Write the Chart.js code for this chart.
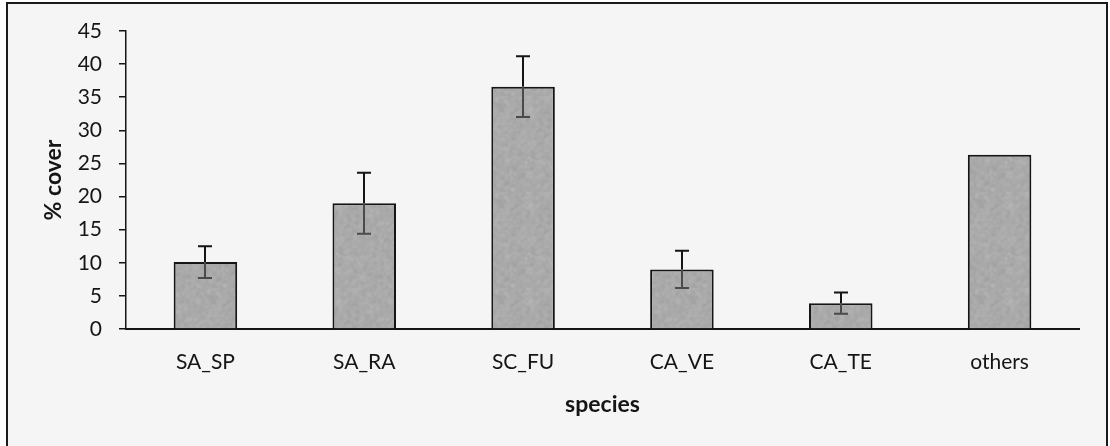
<!DOCTYPE html>
<html>
<head>
<meta charset="utf-8">
<script src="https://cdn.jsdelivr.net/npm/chart.js@4.4.1/dist/chart.umd.min.js"></script>
<style>
  html, body { margin: 0; padding: 0; background: #ffffff; }
  #wrap { position: relative; width: 1110px; height: 446px; }
</style>
</head>
<body>
<div id="wrap"><canvas id="c" width="1110" height="446"></canvas></div>
<script>
// Mean percentage cover per species, with standard errors
const species = ['SA_SP', 'SA_RA', 'SC_FU', 'CA_VE', 'CA_TE', 'others'];
const cover = [10.1, 19.0, 36.6, 9.0, 3.9, 26.3];
const coverError = [2.4, 4.6, 4.6, 2.8, 1.6, null];
const yTicks = [0, 5, 10, 15, 20, 25, 30, 35, 40, 45];

const FONT = 'Lato, "Open Sans", sans-serif';
const INK = '#151515';

// Speckled grey fill for the bars (deterministic hash noise, softened)
function speckle() {
  const size = 96;
  const raw = document.createElement('canvas');
  raw.width = size; raw.height = size;
  const g = raw.getContext('2d');
  const img = g.createImageData(size, size);
  for (let i = 0; i < size * size; i++) {
    let h = Math.imul(i + 1, 0x9E3779B1) >>> 0;
    h ^= h >>> 15; h = Math.imul(h, 0x85EBCA6B) >>> 0;
    h ^= h >>> 13; h = Math.imul(h, 0xC2B2AE35) >>> 0;
    h ^= h >>> 16;
    const n = ((h & 1023) / 1023) - 0.5;
    const v = Math.round(170 + n * 40);
    img.data[i * 4] = v; img.data[i * 4 + 1] = v; img.data[i * 4 + 2] = v; img.data[i * 4 + 3] = 255;
  }
  g.putImageData(img, 0, 0);
  const soft = document.createElement('canvas');
  soft.width = size; soft.height = size;
  const s = soft.getContext('2d');
  s.fillStyle = '#aaaaaa';
  s.fillRect(0, 0, size, size);
  s.filter = 'blur(0.8px)';
  s.drawImage(raw, 0, 0);
  return s.createPattern(soft, 'repeat');
}

// Frame and pale background behind the whole chart
const framePlugin = {
  id: 'frame',
  beforeDraw(chart) {
    const ctx = chart.ctx;
    ctx.save();
    ctx.fillStyle = '#f5f5f5';
    ctx.fillRect(7, 3, 1100, 443);
    ctx.strokeStyle = '#1a1a1a';
    ctx.lineWidth = 2;
    ctx.beginPath();
    ctx.moveTo(7, 446);
    ctx.lineTo(7, 3);
    ctx.lineTo(1107, 3);
    ctx.lineTo(1107, 446);
    ctx.stroke();
    ctx.restore();
  }
};

// Error bars: dark above the bar, lighter where they pass through the bar
const errorBarPlugin = {
  id: 'errorBars',
  afterDatasetsDraw(chart) {
    const ctx = chart.ctx;
    const yScale = chart.scales.y;
    const meta = chart.getDatasetMeta(0);
    const cap = 7;
    ctx.save();
    ctx.lineWidth = 2;
    meta.data.forEach((bar, i) => {
      const e = coverError[i];
      if (e == null) return;
      const v = cover[i];
      const x = Math.round(bar.x);
      const yTop = yScale.getPixelForValue(v + e);
      const yVal = yScale.getPixelForValue(v);
      const yBot = yScale.getPixelForValue(v - e);
      ctx.strokeStyle = INK;
      ctx.beginPath();
      ctx.moveTo(x, yVal); ctx.lineTo(x, yTop);
      ctx.moveTo(x - cap, yTop); ctx.lineTo(x + cap, yTop);
      ctx.stroke();
      ctx.strokeStyle = '#4a4a4a';
      ctx.beginPath();
      ctx.moveTo(x, yVal); ctx.lineTo(x, yBot);
      ctx.moveTo(x - cap, yBot); ctx.lineTo(x + cap, yBot);
      ctx.stroke();
    });
    ctx.restore();
  }
};

const ctx = document.getElementById('c').getContext('2d');
new Chart(ctx, {
  type: 'bar',
  data: {
    labels: species,
    datasets: [{
      data: cover,
      backgroundColor: speckle(),
      borderColor: INK,
      borderWidth: 2,
      borderSkipped: 'bottom',
      barPercentage: 0.4,
      categoryPercentage: 1.0
    }]
  },
  options: {
    responsive: false,
    animation: false,
    devicePixelRatio: 1,
    layout: { padding: { left: 0, right: 31, top: 31, bottom: 0 } },
    plugins: { legend: { display: false }, tooltip: { enabled: false } },
    scales: {
      x: {
        grid: { display: false, drawTicks: false },
        border: { display: true, color: INK, width: 2 },
        ticks: { color: INK, font: { family: FONT, size: 21 }, padding: 21 },
        title: {
          display: true, text: 'species', color: INK,
          font: { family: FONT, size: 23, weight: 'bold' },
          padding: { top: 0, bottom: 28 }
        },
        afterFit(scale) { scale.height = 117; }
      },
      y: {
        min: 0, max: 45,
        afterBuildTicks(scale) { scale.ticks = yTicks.map(v => ({ value: v })); },
        grid: { drawOnChartArea: false, drawTicks: true, tickLength: 7, color: INK, lineWidth: 1.5 },
        border: { display: true, color: INK, width: 1.5 },
        ticks: { color: INK, font: { family: FONT, size: 21 }, padding: 17 },
        title: {
          display: true, text: '% cover', color: INK,
          font: { family: FONT, size: 23, weight: 'bold' },
          padding: { top: 40, bottom: 0 }
        },
        afterFit(scale) { scale.width = 126; }
      }
    }
  },
  plugins: [framePlugin, errorBarPlugin]
});
</script>
</body>
</html>
